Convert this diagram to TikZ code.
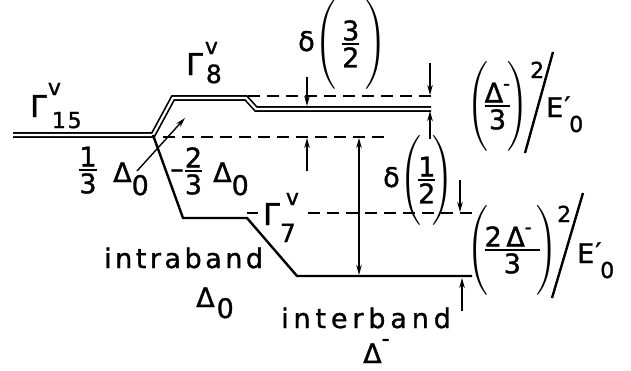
\documentclass[tikz,border=0pt]{standalone}
\usepackage{fix-cm}
\usepackage{amsmath}
\usepackage{graphicx}
\usepackage{fontspec}
\setmainfont{DejaVu Sans}[LetterSpace=8,FakeBold=1.2]
\usetikzlibrary{arrows.meta}
\newcommand\szs{\fontsize{22}{22}\selectfont}
\newcommand\szm{\fontsize{25}{25}\selectfont}
\newcommand\szG{\fontsize{30}{30}\selectfont}
\newcommand\fr[2]{\genfrac{}{}{2pt}{1}{\textstyle #1}{\textstyle #2}}
\begin{document}
\begin{tikzpicture}[x=1pt,y=-1pt,
  lvl/.style={line width=2.4pt, line join=miter},
  dbl/.style={double, double distance=2.2pt, line width=1.7pt},
  dsh/.style={line width=2pt, dash pattern=on 12pt off 7pt},
  arr/.style={line width=1.4pt, -{Stealth[length=10pt,width=5.5pt]}},
  darr/.style={line width=1.4pt, {Stealth[length=10pt,width=5.5pt]}-{Stealth[length=10pt,width=5.5pt]}},
  lbl/.style={inner sep=0pt, anchor=base west, font=\fontsize{27}{32}\selectfont},
  slash/.style={line width=2.4pt}]
\useasboundingbox (0,0) rectangle (631,370);
% levels
\coordinate (L15) at (13,135);
\coordinate (J) at (153,135);
\coordinate (A8) at (173,98);
\coordinate (B8) at (246,98);
\coordinate (C8) at (256,109);
\coordinate (D8) at (431,109);
\coordinate (A7) at (183,218);
\coordinate (B7) at (247,218);
\coordinate (C7) at (297,276);
\coordinate (D7) at (472,276);
\draw[dbl] (L15) -- (J) -- (A8) -- (B8) -- (C8) -- (D8);
\draw[lvl] (J) -- (A7) -- (B7) -- (C7) -- (D7);
% dashed reference lines
\coordinate (d1a) at (248,96); \coordinate (d1b) at (432,96);
\coordinate (d2a) at (163,137); \coordinate (d2b) at (390,137);
\coordinate (d3a) at (247,213); \coordinate (d3b) at (258,213);
\coordinate (d3c) at (308,213); \coordinate (d3d) at (473,213);
\draw[dsh] (d1a) -- (d1b);
\draw[dsh] (d2a) -- (d2b);
\draw[line width=2pt] (d3a) -- (d3b);
\draw[dsh] (d3c) -- (d3d);
% arrows
\coordinate (a1s) at (307,77);  \coordinate (a1e) at (307,106);
\coordinate (a2s) at (307,171); \coordinate (a2e) at (307,138);
\coordinate (a3s) at (430,63);  \coordinate (a3e) at (430,95);
\coordinate (a4s) at (430,139); \coordinate (a4e) at (430,111);
\coordinate (a5s) at (359,138); \coordinate (a5e) at (359,275);
\coordinate (a6s) at (460,180); \coordinate (a6e) at (460,212);
\coordinate (a7s) at (462,311); \coordinate (a7e) at (462,278);
\coordinate (a8s) at (137,171); \coordinate (a8e) at (185,118);
\draw[arr] (a1s) -- (a1e);
\draw[arr] (a2s) -- (a2e);
\draw[arr] (a3s) -- (a3e);
\draw[arr] (a4s) -- (a4e);
\draw[darr] (a5s) -- (a5e);
\draw[arr] (a6s) -- (a6e);
\draw[arr] (a7s) -- (a7e);
\draw[arr] (a8s) -- (a8e);
% slashes
\coordinate (s1a) at (553,52); \coordinate (s1b) at (525,153);
\coordinate (s2a) at (583,193); \coordinate (s2b) at (552,298);
\draw[slash] (s1a) -- (s1b);
\draw[slash] (s2a) -- (s2b);
% labels
\node[lbl] (g15) at (30,117) {{\szG Γ}\kern1pt\rlap{\raisebox{22pt}{\szs v}}\kern4pt\raisebox{-11pt}{\szs 15}};
\node[lbl] (g8) at (186,75) {{\szG Γ}\kern2pt\rlap{\raisebox{21pt}{\szs v}}\kern1pt\raisebox{-8pt}{\szm 8}};
\node[lbl] (g7) at (263,225) {{\szG Γ}\rlap{\kern6pt\raisebox{20pt}{\szs v}}\raisebox{-17pt}{\szm 7}};
\node[lbl] (intra) at (104,268) {\addfontfeatures{LetterSpace=13}intraband};
\node[lbl] (intrad) at (196,307) {Δ\kern2pt\raisebox{-11pt}{0}};
\node[lbl] (inter) at (281,328) {\addfontfeatures{LetterSpace=18}interband};
\node[lbl] (interd) at (363,363) {Δ\rlap{\raisebox{17pt}{\szs -}}};
\node[lbl] (f13) at (78,177) {$\fr{\text{1}}{\text{3}}$};
\node[lbl] (d13) at (113,182) {Δ\raisebox{-13pt}{0}};
\node[lbl] (f23) at (170,178) {$\text{–}\fr{\text{2}}{\text{3}}$};
\node[lbl] (d23) at (213,182) {Δ\raisebox{-13pt}{0}};
\node[lbl] (del32) at (298,51) {$\text{δ}\Biggl(\,\fr{\text{3}}{\text{2}}\,\Biggr)$};
\node[lbl] (del12) at (383,187) {$\text{δ}\Biggl(\!\fr{\text{1}}{\text{2}}\!\Biggr)$};
\node[lbl] (q1) at (466,113) {$\Biggl(\!\fr{\text{Δ}^{\text{-}}}{\text{3}}\!\Biggr)$};
\node[lbl] (q1s) at (530,78) {\szs 2};
\node[lbl] (e1) at (546,117) {E\rlap{\kern1pt\raisebox{1pt}{′}}\kern6pt\raisebox{-15pt}{\szs 0}};
\node[lbl] (q2) at (466,257) {$\Biggl(\!\fr{\text{2\,Δ}^{\text{-}}\kern8pt}{\text{3}}\!\Biggr)$};
\node[lbl] (q2s) at (557,222) {\szs 2};
\node[lbl] (e2) at (577,263) {E\rlap{\kern1pt\raisebox{1pt}{′}}\kern6pt\raisebox{-15pt}{\szs 0}};
\end{tikzpicture}
\end{document}
